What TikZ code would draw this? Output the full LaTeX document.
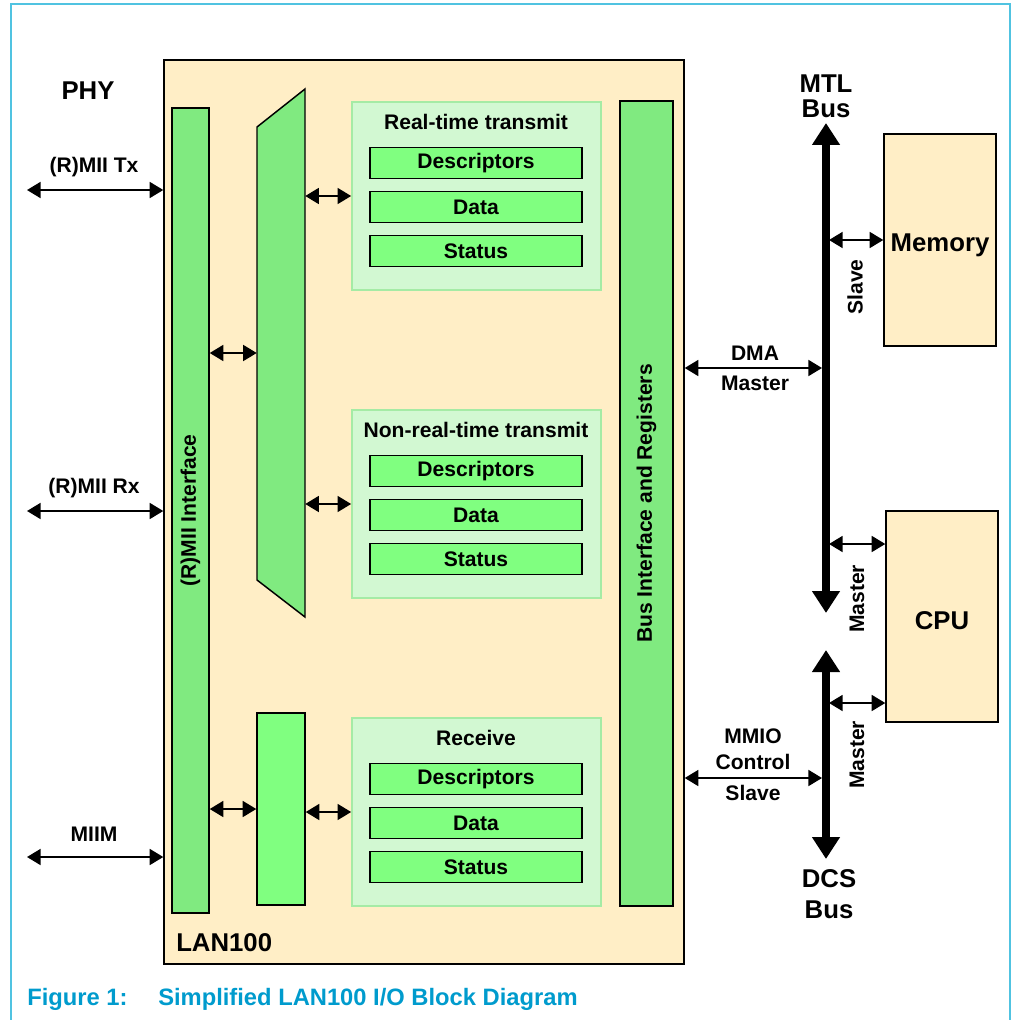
\documentclass[tikz,border=0pt]{standalone}
\usepackage{fontspec}
\setmainfont{Liberation Sans}
\usetikzlibrary{arrows.meta,fit,positioning}

\definecolor{lantan}{RGB}{255,238,198}
\definecolor{stripgreen}{RGB}{128,234,128}
\definecolor{boxgreen}{RGB}{128,255,128}
\definecolor{groupfill}{RGB}{210,248,210}
\definecolor{groupline}{RGB}{165,235,165}
\definecolor{framecyan}{RGB}{80,195,225}
\definecolor{captionblue}{RGB}{0,155,205}

\begin{document}
\begin{tikzpicture}[
        x=0.75pt, y=-0.75pt,
        font=\bfseries\fontsize{15.8}{19}\selectfont,
        big/.style={font=\bfseries\fontsize{19.3}{23}\selectfont},
        chip box/.style={draw=black, line width=1.1pt, fill=lantan, inner sep=0pt},
        strip box/.style={draw=black, line width=1.1pt, fill=stripgreen, inner sep=0pt},
        group box/.style={draw=groupline, line width=1.3pt, fill=groupfill, inner sep=0pt},
        field box/.style={draw=black, line width=1pt, fill=boxgreen, minimum width=159pt, minimum height=23.3pt, inner sep=0pt},
        link/.style={{Triangle[length=10.2pt,width=12pt]}-{Triangle[length=10.2pt,width=12pt]}, line width=1.3pt},
        bus/.style={{Triangle[length=16.5pt,width=20pt]}-{Triangle[length=16.5pt,width=20pt]}, line width=5.5pt},
    ]

    \useasboundingbox (0,0) rectangle (1012,1020);

    % Open frame round the figure
    \draw[framecyan, line width=1.5pt] (10.5,1020) -- (10.5,4.5) -- (1010,4.5) -- (1010,1020);

    % LAN100 block and its inner strips
    \node[chip box, fit={(164,60) (684,964)}] (lan) {};
    \node[strip box, fit={(172,108) (209,913)}] (mii) {};
    \node[rotate=90] at (mii) {(R)MII Interface};
    \node[strip box, fit={(620,101) (673,906)}] (bif) {};
    \node[rotate=90] at (bif) {Bus Interface and Registers};

    % Transmit multiplexer and receive buffer
    \draw[strip box] (257,127) -- (305,89) -- (305,617) -- (257,580) -- cycle;
    \node[fit={(257,89) (305,617)}, inner sep=0pt] (mux) {};
    \node[strip box, fill=boxgreen, fit={(257,713) (305,905)}] (rxbuf) {};

    % The three queues, each with Descriptors / Data / Status
    \foreach \name/\title/\dy in {rt/Real-time transmit/0, nrt/Non-real-time transmit/308, rx/Receive/616} {
        \node[group box, fit={(352,102+\dy) (601,290+\dy)}] (\name) {};
        \node (\name-title) at (476,122+\dy) {\title};
        \foreach \f/\lbl [count=\i from 0] in {desc/Descriptors, data/Data, stat/Status}
            \node[field box] (\name-\f) at (476,163+\dy+44*\i) {\lbl};
    }

    \node[big, inner sep=0pt, anchor=west] (lan-label) at (176,943) {LAN100};

    % PHY side
    \node[big] (phy) at (88,91) {PHY};
    \foreach \port/\lbl/\y in {tx/(R)MII Tx/190, rxp/(R)MII Rx/511, miim/MIIM/857} {
        \coordinate (\port-end) at (27,\y);
        \draw[link] (\port-end) -- (\port-end -| lan.west);
        \node (\port-label) at (94,\y-23) {\lbl};
    }

    % Links inside the block
    \draw[link] (mii.east |- 0,353) -- (mux.west |- 0,353);
    \draw[link] (mii.east |- 0,809) -- (rxbuf.west |- 0,809);
    \draw[link] (mux.east |- 0,196) -- (rt.west |- 0,196);
    \draw[link] (mux.east |- 0,504) -- (nrt.west |- 0,504);
    \draw[link] (rxbuf.east |- 0,812) -- (rx.west |- 0,812);

    % Buses
    \coordinate (mtl-top) at (826,123);
    \coordinate (mtl-bot) at (826,613);
    \coordinate (dcs-top) at (826,650);
    \coordinate (dcs-bot) at (826,859);
    \coordinate (bus-left) at (822,0);
    \coordinate (bus-right) at (829,0);
    \draw[bus] (mtl-top) -- (mtl-bot);
    \draw[bus] (dcs-top) -- (dcs-bot);
    \node[big, align=center, font=\bfseries\fontsize{19.3}{18.8}\selectfont] (mtl-label) at (826,96) {MTL\\Bus};
    \node[big, align=center, font=\bfseries\fontsize{19.3}{23.2}\selectfont] (dcs-label) at (829,894) {DCS\\Bus};

    % Memory and CPU
    \node[chip box, fit={(884,134) (996,346)}] (mem) {};
    \node[big] at (940,245) {Memory};
    \node[chip box, fit={(886,511) (998,722)}] (cpu) {};
    \node[big] at (942,621) {CPU};

    % Master / slave connections
    \draw[link] (lan.east |- 0,368) -- (bus-left |- 0,368);
    \node (dma-label) at (755,353) {DMA};
    \node (dma-role) at (755,383) {Master};
    \draw[link] (lan.east |- 0,778) -- (bus-left |- 0,778);
    \node[align=center, font=\bfseries\fontsize{15.8}{19.5}\selectfont] (mmio-label) at (753,749) {MMIO\\Control};
    \node (mmio-role) at (753,793) {Slave};

    \draw[link] (bus-right |- 0,240) -- (mem.west |- 0,240);
    \node[rotate=90] (mem-role) at (855,287) {Slave};
    \draw[link] (bus-right |- 0,544) -- (cpu.west |- 0,544);
    \node[rotate=90] (cpu-role-a) at (857,599) {Master};
    \draw[link] (bus-right |- 0,703) -- (cpu.west |- 0,703);
    \node[rotate=90] (cpu-role-b) at (857,755) {Master};

    % Caption
    \begin{scope}[every node/.style={inner sep=0pt, anchor=west, text=captionblue, font=\bfseries\fontsize{17.8}{21}\selectfont}]
        \node (fig-num) at (27,999) {Figure 1:};
        \node (fig-title) at (158,999) {Simplified LAN100 I/O Block Diagram};
    \end{scope}

\end{tikzpicture}
\end{document}
